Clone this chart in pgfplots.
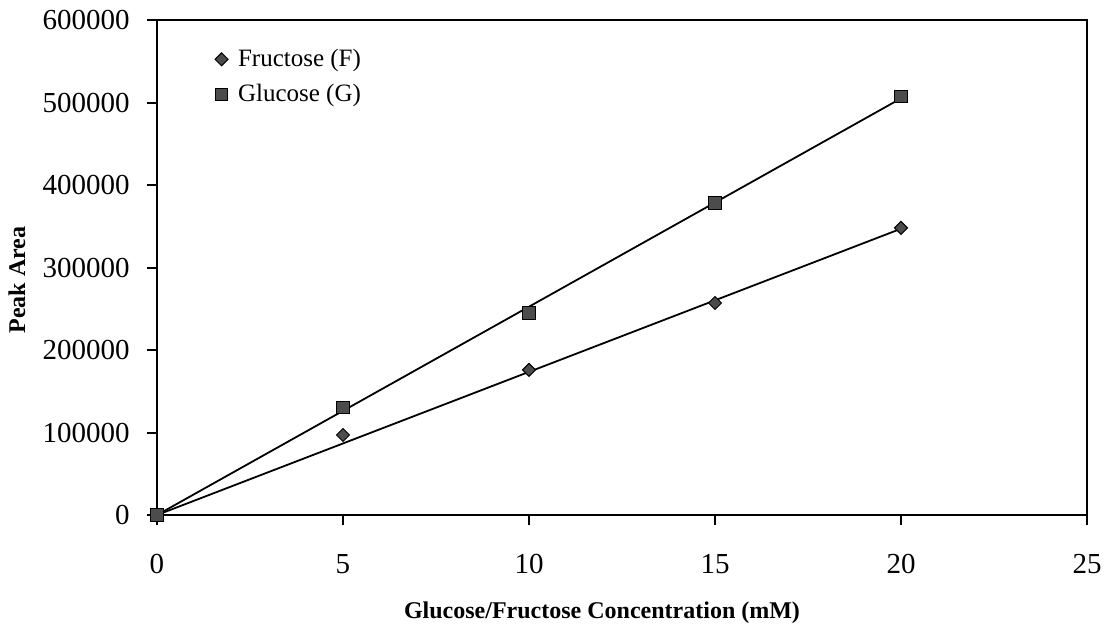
\documentclass[border=0pt]{standalone}
\usepackage{fontspec}
\setmainfont{Liberation Serif}
\usepackage{pgfplots}
\pgfplotsset{compat=1.18}
\begin{document}
\begin{tikzpicture}
\begin{axis}[
  scale only axis,
  width=465pt, height=247.5pt,
  xmin=0, xmax=25, ymin=0, ymax=600000,
  xtick={0,5,10,15,20,25},
  ytick={0,100000,200000,300000,400000,500000,600000},
  scaled y ticks=false,
  /pgf/number format/assume math mode=true,
  yticklabel={\pgfmathprintnumber[fixed,1000 sep={}]{\tick}},
  tick align=outside,
  tick pos=left,
  major tick length=5pt,
  axis line style={line width=1pt},
  every tick/.style={line width=1pt, black},
  tick label style={font=\fontsize{14.5}{16}\selectfont},
  yticklabel style={inner sep=0pt, anchor=east, xshift=-8.5pt},
  xticklabel style={inner sep=0pt, anchor=north, yshift=-14.5pt},
  xlabel={Glucose/Fructose Concentration (mM)},
  ylabel={Peak Area},
  label style={font=\fontsize{12}{14}\bfseries\selectfont},
  xlabel style={at={(axis description cs:0.5,0)}, anchor=center, yshift=-49pt, xshift=-10pt},
  ylabel style={at={(axis description cs:-0.1505,0.475)}, anchor=center},
  legend style={draw=none, fill=none, at={(axis description cs:0.062,0.95)}, anchor=north west,
    font=\fontsize{12.5}{14}\selectfont, row sep=3.5pt, inner sep=0pt,
    nodes={inner xsep=5pt}},
  legend cell align=left,
  legend image code/.code={\draw[#1] plot coordinates {(0cm,0cm)};},
  clip=false,
]
\addplot[only marks, mark=square*, mark size=2.3pt, mark options={rotate=45, fill=black!70, draw=black, line width=0.5pt}]
  coordinates {(0,0) (5,97000) (10,176000) (15,257000) (20,348000)};
\addlegendentry{Fructose (F)}
\addplot[only marks, mark=square*, mark size=3.1pt, mark options={fill=black!70, draw=black, line width=0.5pt}]
  coordinates {(0,0) (5,130000) (10,245000) (15,378000) (20,507000)};
\addlegendentry{Glucose (G)}
\addplot[forget plot, black, line width=0.9pt] coordinates {(0,0) (20,347000)};
\addplot[forget plot, black, line width=0.9pt] coordinates {(0,0) (20,505000)};
\coordinate (O) at (rel axis cs:0,0);
\end{axis}
\pgfresetboundingbox
\useasboundingbox (O) ++(-78.5pt,-57pt) rectangle ++(553pt,314.5pt);
\end{tikzpicture}
\end{document}
